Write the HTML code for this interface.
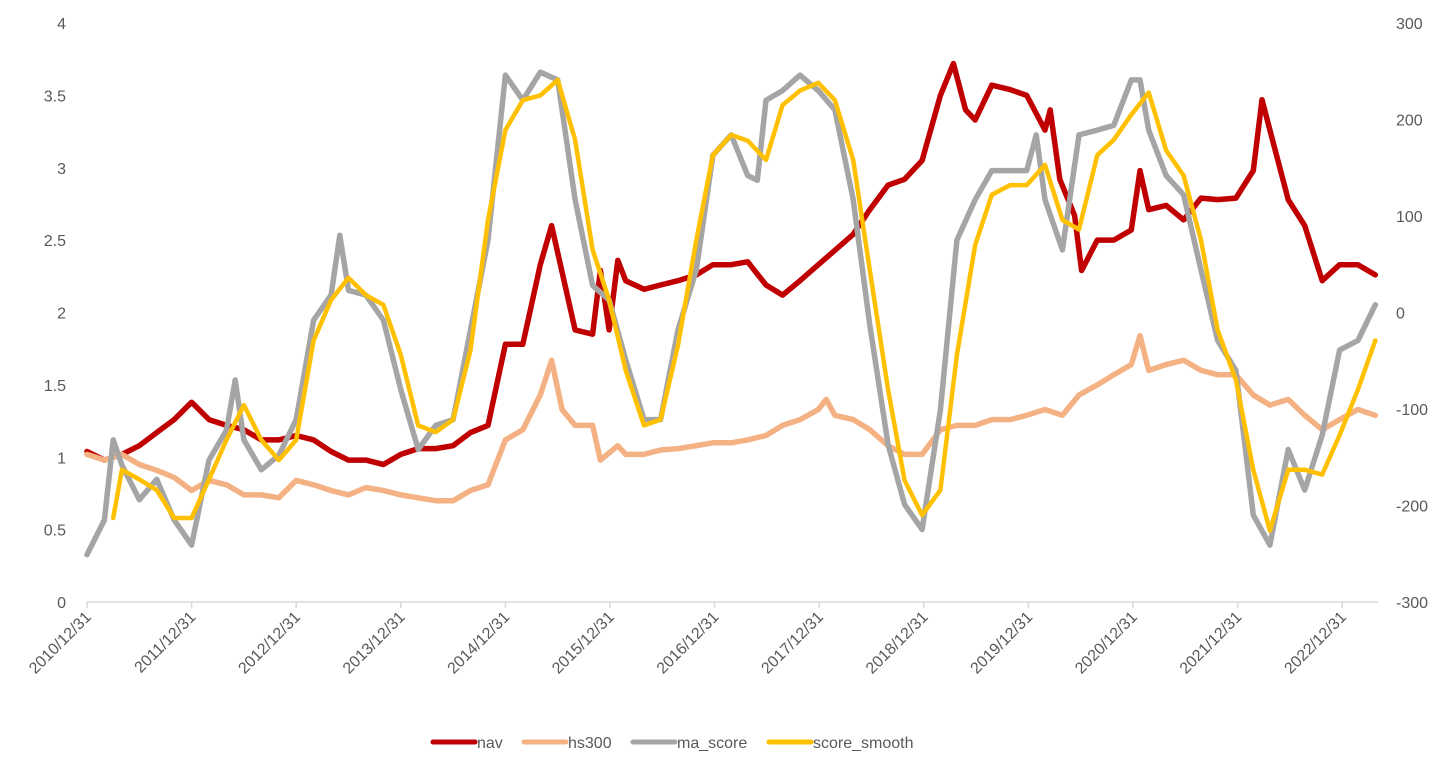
<!DOCTYPE html>
<html><head><meta charset="utf-8">
<style>
html,body{margin:0;padding:0;background:#fff;}
svg{display:block;font-family:"Liberation Sans",sans-serif;}
</style></head>
<body>
<svg id="chart" width="1449" height="759" viewBox="0 0 1449 759" xmlns="http://www.w3.org/2000/svg">
<g id="axes"></g>
<g id="series"></g>
<g id="legend"></g>
</svg>
<script>
// months since 2010/12/31
const navMonths=[0,2,4,6,8,10,12,14,16,18,20,22,24,26,28,30,32,34,36,38,40,42,44,46,48,50,52,53.3,56,58,58.9,59.9,60.9,61.8,63.9,65.8,67.8,69.9,71.8,73.9,75.8,77.9,79.8,81.8,83.9,85.8,87.9,89.8,91.9,93.8,95.8,97.9,99.4,100.8,101.9,103.8,105.9,107.8,109.9,110.5,111.6,113.3,114.1,115.9,117.8,119.8,120.8,121.8,123.8,125.8,127.8,129.7,131.8,133.8,134.8,135.7,137.8,139.7,141.7,143.7,145.8,147.8];
const navValues=[1.04,0.98,1.02,1.08,1.17,1.26,1.38,1.26,1.22,1.19,1.12,1.12,1.15,1.12,1.04,0.98,0.98,0.95,1.02,1.06,1.06,1.08,1.17,1.22,1.78,1.78,2.33,2.6,1.88,1.85,2.29,1.88,2.36,2.22,2.16,2.19,2.22,2.26,2.33,2.33,2.35,2.19,2.12,2.22,2.33,2.43,2.54,2.71,2.88,2.92,3.05,3.5,3.72,3.4,3.33,3.57,3.54,3.5,3.26,3.4,2.92,2.67,2.29,2.5,2.5,2.57,2.98,2.71,2.74,2.64,2.79,2.78,2.79,2.98,3.47,3.26,2.78,2.6,2.22,2.33,2.33,2.26];
const hsMonths=[0,2,4,6,8,10,12,14,16,18,20,22,24,26,28,30,32,34,36,38,40,42,44,46,48,50,52,53.3,54.5,56,58,58.9,60.9,61.8,63.9,65.8,67.8,69.9,71.8,73.9,75.8,77.9,79.8,81.8,83.9,84.8,85.8,87.9,89.8,91.9,93.8,95.8,97.9,99.8,101.9,103.8,105.9,107.8,109.9,111.9,113.8,115.9,117.8,119.8,120.8,121.8,123.8,125.8,127.8,129.7,131.8,133.8,135.7,137.8,139.7,141.7,143.7,145.8,147.8];
const hsValues=[1.02,0.98,1.02,0.95,0.91,0.86,0.77,0.84,0.81,0.74,0.74,0.72,0.84,0.81,0.77,0.74,0.79,0.77,0.74,0.72,0.7,0.7,0.77,0.81,1.12,1.19,1.43,1.67,1.33,1.22,1.22,0.98,1.08,1.02,1.02,1.05,1.06,1.08,1.1,1.1,1.12,1.15,1.22,1.26,1.33,1.4,1.29,1.26,1.19,1.08,1.02,1.02,1.19,1.22,1.22,1.26,1.26,1.29,1.33,1.29,1.43,1.5,1.57,1.64,1.84,1.6,1.64,1.67,1.6,1.57,1.57,1.43,1.36,1.4,1.29,1.19,1.26,1.33,1.29];
const maMonths=[0,2,3,4,6,8,10,12,14,16,17,18,20,22,24,26,28,29,30,32,34,36,38,40,42,44,46,48,50,52,54,56,58,59.9,61.8,63.9,65.8,67.8,69.9,71.8,73.9,75.8,76.9,77.9,79.8,81.8,83.9,85.8,87.9,89.8,91.9,93.8,95.8,97.9,99.8,101.9,103.8,105.9,107.8,108.9,109.9,111.9,113.8,115.9,117.8,119.8,120.8,121.8,123.8,125.8,127.8,129.7,131.8,133.8,135.7,137.8,139.7,141.7,143.7,145.8,147.8];
const maValues=[-251,-215,-132,-158,-194,-173,-215,-241,-153,-122,-70,-132,-163,-148,-111,-8,18,80,23,18,-8,-80,-142,-117,-111,-18,75,246,220,249,241,117,28,13,-49,-111,-111,-18,44,163,184,142,137,220,230,246,230,210,117,-13,-137,-199,-225,-101,75,117,147,147,147,184,117,65,184,189,194,241,241,189,142,122,44,-29,-60,-210,-241,-142,-184,-127,-39,-29,8];
const smMonths=[3,4,6,8,10,12,14,16,18,20,22,24,26,28,30,32,34,36,38,40,42,44,46,48,50,52,54,56,58,59.9,61.8,63.9,65.8,67.8,69.9,71.8,73.9,75.8,77.9,79.8,81.8,83.9,85.8,87.9,89.8,91.9,93.8,95.8,97.9,99.8,101.9,103.8,105.9,107.8,109.9,111.9,113.8,115.9,117.8,119.8,121.8,123.8,125.8,127.8,129.7,131.8,133.8,135.7,137.8,139.7,141.7,143.7,145.8,147.8];
const smValues=[-213,-163,-173,-184,-213,-213,-173,-132,-96,-132,-153,-132,-29,13,36,18,8,-44,-117,-124,-111,-39,96,189,220,225,241,179,65,13,-60,-117,-111,-34,75,163,184,178,158,215,230,238,220,158,44,-80,-174,-210,-184,-44,70,122,132,132,153,96,86,163,179,205,228,168,142,75,-18,-70,-163,-226,-163,-163,-168,-127,-80,-29];
const leftTicks=[0,0.5,1,1.5,2,2.5,3,3.5,4];
const rightTicks=[-300,-200,-100,0,100,200,300];
const xTickLabels=["2010/12/31","2011/12/31","2012/12/31","2013/12/31","2014/12/31","2015/12/31","2016/12/31","2017/12/31","2018/12/31","2019/12/31","2020/12/31","2021/12/31","2022/12/31"];

const NS="http://www.w3.org/2000/svg";
const X0=87,X1=1378,YB=602,YT=23,MONTHPX=104.6/12;
const xs=m=>X0+m*MONTHPX;
const yl=v=>YB-(v/4)*(YB-YT);
const yr=v=>YB-((v+300)/600)*(YB-YT);
function mk(tag,attrs,parent){const e=document.createElementNS(NS,tag);for(const k in attrs)e.setAttribute(k,attrs[k]);parent.appendChild(e);return e;}
const axes=document.getElementById('axes'),ser=document.getElementById('series'),leg=document.getElementById('legend');

let ax=mk('line',{x1:X0,x2:X1,y1:YB,y2:YB,stroke:'#d9d9d9','stroke-width':1.5},axes);


leftTicks.forEach(v=>{const t=mk('text',{x:66,y:yl(v)+6,'text-anchor':'end','font-size':16,fill:'#595959'},axes);t.textContent=String(v);

});
rightTicks.forEach(v=>{const t=mk('text',{x:1396,y:yr(v)+6,'text-anchor':'start','font-size':16,fill:'#595959'},axes);t.textContent=String(v);

});
xTickLabels.forEach((s,i)=>{const x=xs(i*12);
const tk=mk('line',{x1:x,x2:x,y1:YB,y2:YB+6,stroke:'#d9d9d9','stroke-width':1.5},axes);


const t=mk('text',{x:x+5,y:YB+16,'text-anchor':'end','font-size':16,fill:'#595959',transform:`rotate(-45 ${x+5} ${YB+16})`},axes);t.textContent=s;

});

function line(ms,vs,yf,color,w,name){const d=ms.map((m,i)=>(i?'L':'M')+xs(m).toFixed(1)+','+yf(vs[i]).toFixed(1)).join('');
const p=mk('path',{d:d,fill:'none',stroke:color,'stroke-width':w,'stroke-linejoin':'round','stroke-linecap':'round'},ser);

}
line(navMonths,navValues,yl,'#c00000',5.5,'nav-line');
line(hsMonths,hsValues,yl,'#f4b183',5.5,'hs300-line');
line(maMonths,maValues,yr,'#a5a5a5',5.5,'ma-score-line');
line(smMonths,smValues,yr,'#ffc000',4.5,'score-smooth-line');

const items=[['nav','#c00000',433],['hs300','#f4b183',524],['ma_score','#a5a5a5',633],['score_smooth','#ffc000',769]];
items.forEach(([n,c,x])=>{const l=mk('line',{x1:x,x2:x+42,y1:742,y2:742,stroke:c,'stroke-width':5,'stroke-linecap':'round'},leg);


const t=mk('text',{x:x+44,y:748,'font-size':16,fill:'#595959'},leg);t.textContent=n;

});
</script>
</body></html>
